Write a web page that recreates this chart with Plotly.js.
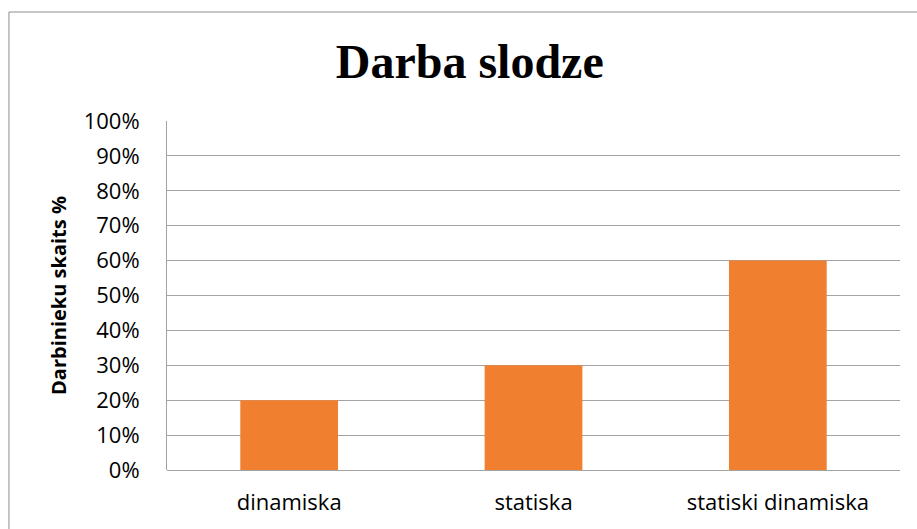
<!DOCTYPE html>
<html>
<head>
<meta charset="utf-8">
<script src="https://cdn.plot.ly/plotly-3.0.1.min.js"></script>
<style>html,body{margin:0;padding:0;background:#fff;}#chart{width:917px;height:529px;}</style>
</head>
<body>
<div id="chart"></div>
<script>
const categories = ["dinamiska", "statiska", "statiski dinamiska"];
const values = [0.20, 0.30, 0.60];
const chartTitle = "Darba slodze";
const yTitle = "Darbinieku skaits %";

const trace = {
  type: "bar",
  x: categories,
  y: values,
  marker: { color: "#f07f30", line: { width: 0 } },
  hoverinfo: "x+y"
};

const layout = {
  width: 917,
  height: 529,
  margin: { l: 167, r: 17, t: 121, b: 59 },
  paper_bgcolor: "#ffffff",
  plot_bgcolor: "#ffffff",
  showlegend: false,
  bargap: 0.6,
  title: {
    text: "<b>" + chartTitle + "</b>",
    font: { family: "Liberation Serif, Times New Roman, serif", size: 48, color: "#000" },
    x: 0.413, xref: "paper", xanchor: "center",
    y: 0.885, yref: "container", yanchor: "middle"
  },
  xaxis: {
    type: "category",
    showgrid: false,
    showline: false,
    zeroline: false,
    ticks: "",
    ticklabelstandoff: 17,
    tickfont: { family: "Open Sans, sans-serif", size: 22, color: "#000" }
  },
  yaxis: {
    range: [0, 1],
    dtick: 0.1,
    tick0: 0,
    tickformat: ".0%",
    showgrid: true,
    gridcolor: "#a3a3a3",
    gridwidth: 1,
    zeroline: true,
    zerolinecolor: "#a3a3a3",
    zerolinewidth: 1,
    showline: true,
    linecolor: "#a3a3a3",
    linewidth: 1,
    ticks: "",
    ticklabelstandoff: 22,
    tickfont: { family: "Open Sans, sans-serif", size: 22, color: "#000" },
    title: {
      text: "<b>" + yTitle + "</b>",
      font: { family: "Open Sans, sans-serif", size: 20, color: "#000" },
      standoff: 11
    }
  },
  shapes: [{
    type: "rect", xref: "paper", yref: "paper",
    x0: -0.2156, x1: 1.2, y0: -0.4, y1: 1.3123,
    line: { color: "#8c8c8c", width: 1 },
    fillcolor: "rgba(0,0,0,0)",
    layer: "below"
  }]
};

Plotly.newPlot("chart", [trace], layout, { staticPlot: true, displayModeBar: false });
</script>
</body>
</html>
